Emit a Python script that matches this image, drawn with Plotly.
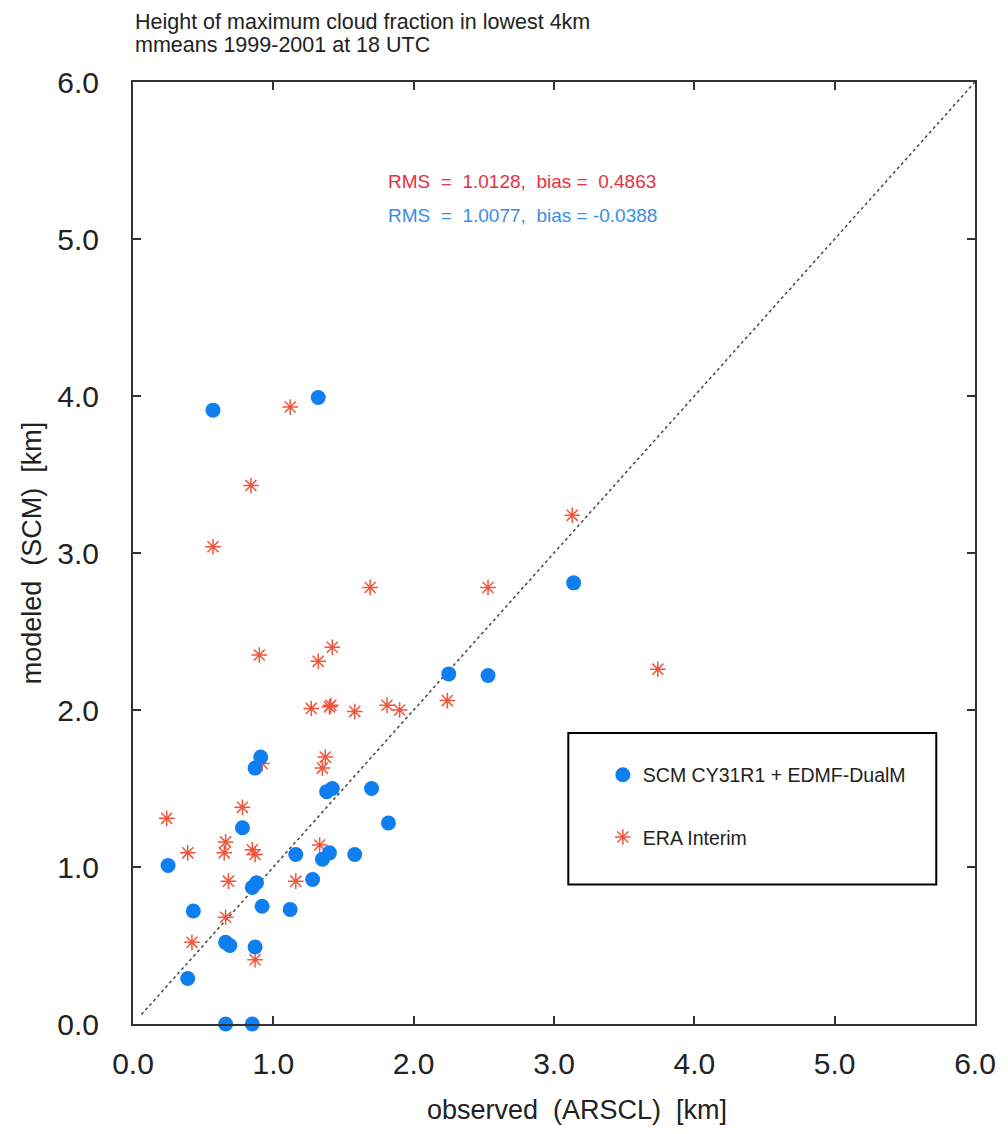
import plotly.graph_objects as go

# SCM CY31R1 + EDMF-DualM (observed vs modeled, km)
scm_obs = [0.25, 0.43, 0.39, 0.66, 0.85, 0.66, 0.69, 0.87, 0.85, 0.88, 0.92, 1.12, 0.78, 0.91, 0.87,
           1.16, 1.28, 1.35, 1.40, 1.58, 1.38, 1.42, 1.70, 1.82, 0.57, 1.32, 3.14, 2.25, 2.53]
scm_mod = [1.01, 0.72, 0.29, 0.0, 0.0, 0.52, 0.50, 0.49, 0.87, 0.90, 0.75, 0.73, 1.25, 1.70, 1.63,
           1.08, 0.92, 1.05, 1.09, 1.08, 1.48, 1.50, 1.50, 1.28, 3.91, 3.99, 2.81, 2.23, 2.22]

# ERA Interim
era_obs = [0.24, 0.39, 0.42, 0.66, 0.65, 0.68, 0.66, 0.78, 0.85, 0.87, 0.87, 0.92, 1.16, 1.33, 1.37,
           1.35, 1.27, 1.40, 1.41, 1.58, 1.81, 1.90, 0.57, 0.84, 1.12, 0.90, 1.32, 1.42, 1.69, 3.13,
           2.53, 3.74, 2.24]
era_mod = [1.31, 1.09, 0.52, 1.16, 1.09, 0.91, 0.68, 1.38, 1.11, 1.08, 0.41, 1.66, 0.91, 1.14, 1.70,
           1.63, 2.01, 2.02, 2.03, 1.99, 2.03, 2.00, 3.04, 3.43, 3.93, 2.35, 2.31, 2.40, 2.78, 3.24,
           2.78, 2.26, 2.06]

diag = [0.06, 6.0]
ticks = [0, 1, 2, 3, 4, 5, 6]
tick_labels = ["0.0", "1.0", "2.0", "3.0", "4.0", "5.0", "6.0"]

FONT = "Liberation Sans, Arial, Helvetica, sans-serif"
NB = "\u00a0"
TXT = "#222222"

fig = go.Figure()
fig.add_scatter(x=diag, y=diag, mode="lines", showlegend=False, hoverinfo="skip",
                line=dict(color="#444444", width=1.5, dash="dot"))
# ERA drawn first so the blue dots sit on top, but listed second in the legend
fig.add_scatter(x=era_obs, y=era_mod, mode="markers", name="ERA Interim",
                legendgroup="era", legendrank=2, cliponaxis=False,
                marker=dict(symbol="asterisk-open", size=13, line=dict(color="#f01010", width=1.5)))
fig.add_scatter(x=scm_obs, y=scm_mod, mode="markers", name="SCM CY31R1 + EDMF-DualM",
                legendgroup="scm", legendrank=1, cliponaxis=False,
                marker=dict(symbol="circle", size=15, color="#0f7ff0"))

axis_common = dict(
    range=[0, 6], tickvals=ticks, ticktext=tick_labels, showgrid=False, zeroline=False,
    showline=True, linecolor="#333333", linewidth=2, mirror="ticks", ticks="inside",
    ticklen=8, tickwidth=1.5, tickcolor="#333333",
    tickfont=dict(family=FONT, size=30, color=TXT),
)

fig.update_layout(
    width=1000, height=1126,
    margin=dict(l=125, r=25, t=74, b=110),
    paper_bgcolor="white", plot_bgcolor="white",
    font=dict(family=FONT, color=TXT),
    xaxis=dict(axis_common, ticklabelstandoff=12),
    yaxis=dict(axis_common, ticklabelstandoff=26,
               title=dict(text="modeled" + NB + " (SCM)" + NB + " [km]", standoff=8,
                          font=dict(family=FONT, size=27, color=TXT))),
    legend=dict(x=0.558, xanchor="left", y=0.285, yanchor="top", traceorder="grouped",
                tracegroupgap=34, itemsizing="trace", bgcolor="rgba(0,0,0,0)", borderwidth=0,
                font=dict(family=FONT, size=19.5, color=TXT)),
    shapes=[dict(type="rect", xref="paper", yref="paper", x0=0.517, x1=0.954, y0=0.148, y1=0.309,
                 line=dict(color="black", width=2))],
    annotations=[
        dict(text="Height of maximum cloud fraction in lowest 4km", xref="paper", yref="paper",
             x=0, y=1 + 60 / 942, xanchor="left", yanchor="middle", showarrow=False,
             font=dict(family=FONT, size=21.5, color=TXT)),
        dict(text="mmeans 1999-2001 at 18 UTC", xref="paper", yref="paper",
             x=0, y=1 + 37 / 942, xanchor="left", yanchor="middle", showarrow=False,
             font=dict(family=FONT, size=21.5, color=TXT)),
        dict(text="observed" + NB + " (ARSCL)" + NB + " [km]", xref="paper", yref="paper",
             x=0.527, y=-(1102 - 1016) / 942, xanchor="center", yanchor="middle", showarrow=False,
             font=dict(family=FONT, size=27, color=TXT)),
        dict(text="RMS" + NB + " = " + NB + "1.0128," + NB + " bias = " + NB + "0.4863",
             xref="paper", yref="paper", x=(380 - 125) / 850, y=(1016 - 174) / 942,
             xanchor="left", yanchor="middle", showarrow=False,
             font=dict(family=FONT, size=19, color="#e83040")),
        dict(text="RMS" + NB + " = " + NB + "1.0077," + NB + " bias = -0.0388",
             xref="paper", yref="paper", x=(380 - 125) / 850, y=(1016 - 208) / 942,
             xanchor="left", yanchor="middle", showarrow=False,
             font=dict(family=FONT, size=19, color="#3a8ee0")),
    ],
)

fig.write_html("out.html")
